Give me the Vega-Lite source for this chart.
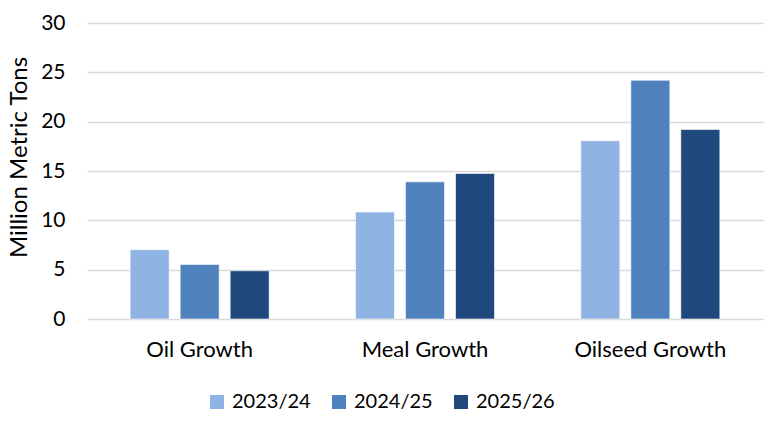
{
  "$schema": "https://vega.github.io/schema/vega-lite/v6.json",
  "autosize": "none",
  "width": 676,
  "height": 296,
  "padding": {"left": 87, "top": 23, "right": 13, "bottom": 109},
  "background": "white",
  "config": {
    "view": {"stroke": null},
    "font": "Lato",
    "axis": {"labelFont": "Lato", "titleFont": "Lato", "labelColor": "#000000", "titleColor": "#000000"},
    "legend": {"labelFont": "Lato", "gridAlign": "all"}
  },
  "data": {
    "values": [
      {"category": "Oil Growth", "year": "2023/24", "value": 7.02},
      {"category": "Oil Growth", "year": "2024/25", "value": 5.53},
      {"category": "Oil Growth", "year": "2025/26", "value": 4.89},
      {"category": "Meal Growth", "year": "2023/24", "value": 10.84},
      {"category": "Meal Growth", "year": "2024/25", "value": 13.9},
      {"category": "Meal Growth", "year": "2025/26", "value": 14.75},
      {"category": "Oilseed Growth", "year": "2023/24", "value": 18.07},
      {"category": "Oilseed Growth", "year": "2024/25", "value": 24.2},
      {"category": "Oilseed Growth", "year": "2025/26", "value": 19.2}
    ]
  },
  "mark": {"type": "bar", "stroke": "#ffffff", "strokeOpacity": 0.6, "strokeWidth": 1},
  "encoding": {
    "x": {
      "field": "category",
      "type": "nominal",
      "sort": ["Oil Growth", "Meal Growth", "Oilseed Growth"],
      "scale": {"paddingInner": 0, "paddingOuter": 0},
      "axis": {
        "title": null,
        "labelAngle": 0,
        "labelFontSize": 22,
        "labelPadding": 20,
        "ticks": false,
        "domain": false,
        "grid": false
      }
    },
    "xOffset": {
      "field": "year",
      "type": "nominal",
      "scale": {"paddingInner": 0.22, "paddingOuter": 0.863}
    },
    "y": {
      "field": "value",
      "type": "quantitative",
      "scale": {"domain": [0, 30], "nice": false},
      "axis": {
        "title": "Million Metric Tons",
        "titleFontSize": 24,
        "titleFontWeight": "normal",
        "titlePadding": 9,
        "titleY": 134,
        "labelFontSize": 21,
        "labelPadding": 22,
        "values": [0, 5, 10, 15, 20, 25, 30],
        "ticks": false,
        "domain": false,
        "grid": true,
        "gridColor": "#d9d9d9",
        "gridWidth": 1.5
      }
    },
    "color": {
      "field": "year",
      "type": "nominal",
      "scale": {"domain": ["2023/24", "2024/25", "2025/26"], "range": ["#8FB3E2", "#4F81BD", "#1F497D"]},
      "legend": {
        "title": null,
        "orient": "none",
        "direction": "horizontal",
        "legendX": 120,
        "legendY": 369,
        "symbolType": "square",
        "symbolSize": 196,
        "symbolStrokeWidth": 0,
        "labelFontSize": 20,
        "labelColor": "#000000",
        "labelOffset": 5,
        "columnPadding": 18
      }
    }
  }
}
